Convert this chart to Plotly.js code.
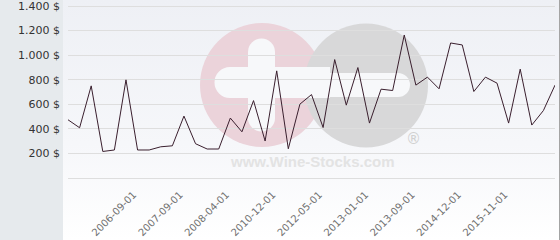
<!DOCTYPE html>
<html>
<head>
<meta charset="utf-8">
<script src="https://cdn.plot.ly/plotly-3.0.1.min.js"></script>
<style>
  html, body { margin: 0; padding: 0; background: #ffffff; }
  #wrap { position: relative; width: 560px; height: 240px; overflow: hidden; }
  #panel { position: absolute; left: 0; top: 0; width: 63px; height: 240px; background: #e6eaed; }
  #grad { position: absolute; left: 63px; top: 0; width: 496px; height: 240px;
          background: linear-gradient(to bottom, #eef0f5 0%, #f6f7fa 60%, #ffffff 100%); }
  #edge { position: absolute; left: 559px; top: 0; width: 1px; height: 240px; background: #a4a4a4; }
  #chart { position: absolute; left: 0; top: 0; width: 560px; height: 240px; }
</style>
</head>
<body>
<div id="wrap">
  <div id="panel"></div>
  <div id="grad"></div>
  <div id="edge"></div>
  <div id="chart"></div>
</div>
<script>
// ---- data ----
const prices = [474, 409, 750, 216, 228, 799, 228, 228, 254, 262,
                504, 279, 236, 236, 488, 376, 630, 301, 872, 238,
                601, 679, 411, 964, 593, 899, 447, 723, 712, 1164,
                756, 821, 726, 1099, 1083, 704, 821, 772, 447, 886,
                431, 549, 756];
const pointIndex = prices.map((_, i) => i);

const dateTickIndex = [6, 10, 14, 18, 22, 26, 30, 34, 38];
const dateTickLabels = ['2006-09-01', '2007-09-01', '2008-04-01', '2010-12-01',
                        '2012-05-01', '2013-01-01', '2013-09-01', '2014-12-01', '2015-11-01'];

const priceTickValues = [200, 400, 600, 800, 1000, 1200, 1400];
const priceTickLabels = ['200 $', '400 $', '600 $', '800 $', '1.000 $', '1.200 $', '1.400 $'];

// ---- plot box in pixels ----
const L = 68, T = 2, W = 487, H = 176;
// 1400 sits at y = 6 px, 0 at y = 178 px
const yTop = 1400 * H / 172;

// ---- pixel -> paper helpers for the watermark ----
const px = x => (x - L) / W;
const py = y => (T + H - y) / H;
function circ(cx, cy, r, color) {
  return {type: 'circle', xref: 'paper', yref: 'paper', layer: 'below',
          x0: px(cx - r), x1: px(cx + r), y0: py(cy + r), y1: py(cy - r),
          fillcolor: color, line: {width: 0}};
}
function rect(x0, y0, x1, y1, color) {
  return {type: 'rect', xref: 'paper', yref: 'paper', layer: 'below',
          x0: px(x0), x1: px(x1), y0: py(y1), y1: py(y0),
          fillcolor: color, line: {width: 0}};
}
const WHITE = '#f7f8fa';
const shapes = [
  circ(262, 85, 62, '#ebd3da'),
  circ(366, 85.5, 62, '#d8d8d9'),
  // white plus in pink disc
  rect(248, 52, 275, 118, WHITE),
  circ(261.5, 52, 13.5, WHITE),
  circ(261.5, 118, 13.5, WHITE),
  rect(230, 67, 330, 98, WHITE),
  circ(230, 82.5, 15.5, WHITE),
  // white bar in grey disc
  rect(320, 73, 398, 97, WHITE),
  circ(398, 85, 12, WHITE)
];

const trace = {
  x: pointIndex,
  y: prices,
  type: 'scatter',
  mode: 'lines',
  line: {color: '#3a1f2e', width: 1},
  hoverinfo: 'skip'
};

const layout = {
  width: 560, height: 240,
  margin: {l: L, r: 560 - L - W, t: T, b: 240 - T - H, pad: 0},
  paper_bgcolor: 'rgba(0,0,0,0)',
  plot_bgcolor: 'rgba(0,0,0,0)',
  showlegend: false,
  xaxis: {
    range: [0, prices.length - 1],
    tickmode: 'array',
    tickvals: dateTickIndex,
    ticktext: dateTickLabels,
    tickangle: -45,
    ticks: '',
    showgrid: false,
    zeroline: false,
    showline: false,
    automargin: false,
    ticklabelstandoff: 8,
    ticklabelshift: -4,
    ticklabeloverflow: 'allow',
    tickfont: {family: 'DejaVu Sans', size: 10, color: '#707070'}
  },
  yaxis: {
    range: [0, yTop],
    tickmode: 'array',
    tickvals: priceTickValues,
    ticktext: priceTickLabels,
    ticks: '',
    showgrid: true,
    gridcolor: '#dedede',
    gridwidth: 1,
    zeroline: true,
    zerolinecolor: '#dedede',
    zerolinewidth: 1,
    showline: false,
    automargin: false,
    ticklabelstandoff: 7,
    ticklabeloverflow: 'allow',
    tickfont: {family: 'DejaVu Sans', size: 11, color: '#333333'}
  },
  shapes: shapes,
  annotations: [
    {xref: 'paper', yref: 'paper', x: px(312.5), y: py(161), xanchor: 'center', yanchor: 'middle',
     text: '<b>www.Wine-Stocks.com</b>', showarrow: false,
     font: {family: 'Liberation Sans', size: 15, color: '#e3e3e3'}},
    {xref: 'paper', yref: 'paper', x: px(413), y: py(139), xanchor: 'center', yanchor: 'middle',
     text: '®', showarrow: false,
     font: {family: 'DejaVu Sans', size: 15, color: '#d0d0d0'}}
  ]
};

Plotly.newPlot('chart', [trace], layout, {displayModeBar: false, staticPlot: true});
</script>
</body>
</html>
